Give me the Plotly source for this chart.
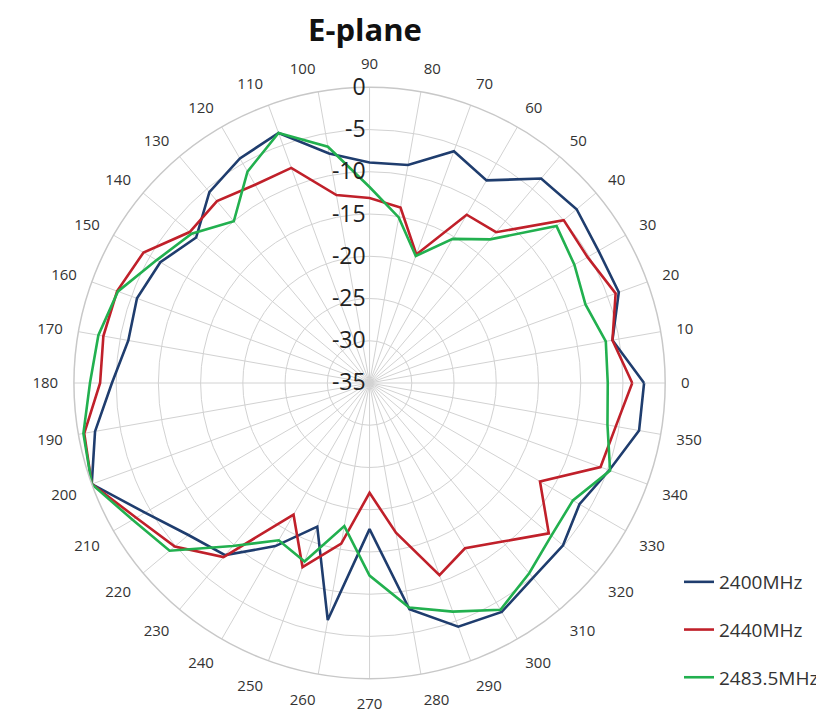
import plotly.graph_objects as go

angles = list(range(0, 360, 10))

blue_2400 = [-2.5, -5.8, -3.6, -3.7, -3.0, -3.4, -7.3, -5.8, -8.8, -8.9,
             -7.4, -3.5, -4.3, -5.5, -8.2, -6.4, -5.7, -6.0, -4.5, -2.0,
             0.0, -4.3, -7.0, -8.4, -12.7, -16.9, -6.5, -17.7, -7.8, -4.3,
             -3.7, -4.9, -5.1, -6.3, -4.8, -2.6]

red_2440 = [-3.9, -5.8, -4.0, -5.2, -5.0, -11.7, -12.0, -18.8, -13.9, -13.1,
            -12.4, -7.9, -7.9, -6.9, -7.2, -4.1, -3.2, -3.0, -3.1, -0.7,
            0.0, -3.1, -4.9, -8.1, -17.0, -11.8, -15.7, -22.0, -17.0, -10.8,
            -12.4, -10.5, -7.3, -11.7, -5.9, -5.4]

green_2483 = [-6.8, -6.6, -7.8, -7.0, -6.1, -12.8, -15.3, -19.0, -15.1, -11.8,
              -6.6, -3.5, -6.1, -10.0, -7.5, -5.9, -3.3, -2.4, -1.9, -0.6,
              0.0, -2.6, -4.1, -9.8, -13.5, -12.5, -17.8, -12.2, -8.0, -6.2,
              -4.0, -5.6, -6.9, -7.2, -4.7, -6.4]

series_names = ["2400MHz", "2440MHz", "2483.5MHz"]
series_colors = ["#1f3d6e", "#c0202a", "#22b04f"]
series_values = [blue_2400, red_2440, green_2483]

radial_ticks = [-35, -30, -25, -20, -15, -10, -5, 0]
angular_ticks = list(range(0, 360, 10))

fig = go.Figure()
for name, color, vals in zip(series_names, series_colors, series_values):
    fig.add_trace(go.Scatterpolar(
        r=vals + [vals[0]],
        theta=angles + [360],
        mode="lines",
        name=name,
        legendgroup=name,
        line=dict(color=color, width=2.6),
    ))

# page body has an 8px margin, so the figure is laid out 8px in from the window
W, H = 816, 705
cx, cy, R = 362, 375, 296
fig.update_layout(
    width=W, height=H,
    margin=dict(l=0, r=0, t=0, b=0),
    paper_bgcolor="white",
    plot_bgcolor="white",
    font=dict(family="Open Sans", color="#333333"),
    title=dict(text="<b>E-plane</b>", x=357 / W, xanchor="center",
               y=1 - 22 / H, yanchor="middle",
               font=dict(size=31, color="#111111", family="Open Sans")),
    polar=dict(
        domain=dict(x=[(cx - R) / W, (cx + R) / W],
                    y=[(H - cy - R) / H, (H - cy + R) / H]),
        bgcolor="white",
        radialaxis=dict(
            range=[-35, 0],
            tickvals=radial_ticks,
            ticktext=[str(v) for v in radial_ticks],
            angle=90,
            tickangle=90,
            side="counterclockwise",
            showline=False,
            ticks="",
            gridcolor="#d2d2d2",
            gridwidth=1.2,
            tickfont=dict(size=23, color="#222222", family="Open Sans"),
        ),
        angularaxis=dict(
            tickvals=angular_ticks,
            ticktext=[str(v) for v in angular_ticks],
            direction="counterclockwise",
            rotation=0,
            ticks="outside",
            ticklen=12,
            tickcolor="rgba(0,0,0,0)",
            gridcolor="#d2d2d2",
            gridwidth=1.2,
            linecolor="#c8c8c8",
            linewidth=1.5,
            tickfont=dict(size=15, color="#333333", family="Open Sans"),
        ),
    ),
    legend=dict(
        x=672 / W, xanchor="left",
        y=1 - 555 / H, yanchor="top",
        font=dict(size=19, color="#333333", family="Open Sans"),
        tracegroupgap=20,
        bgcolor="rgba(255,255,255,0)",
    ),
    showlegend=True,
)

fig.write_html("out.html")
